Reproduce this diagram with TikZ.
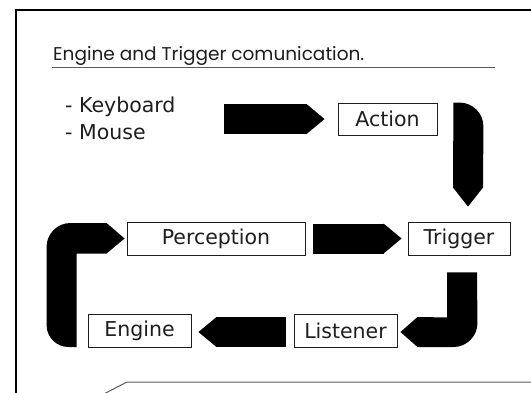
\documentclass[tikz,border=0pt]{standalone}
\usepackage{fontspec}
\setmainfont{DejaVu Sans}
\newfontfamily\titlefont{Poppins}
\usetikzlibrary{arrows.meta,positioning}

\definecolor{inkgray}{HTML}{1E1E1E}
\definecolor{rulegray}{HTML}{5A5A5A}

\tikzset{
  stage/.style={draw=inkgray, line width=0.9pt, minimum height=32pt, inner sep=0pt,
    text=inkgray, font=\fontsize{20.5}{24}\selectfont},
  listtext/.style={anchor=base west, inner sep=0pt, text=inkgray,
    font=\fontsize{20.5}{24}\selectfont},
  blockarrow/.style={line width=30pt, black,
    -{Triangle[length=18pt,width=30pt,line width=0pt]}},
  bentarrow/.style={fill=black}
}

\begin{document}
\begin{tikzpicture}[x=1pt,y=-1pt]
\useasboundingbox (0,0) rectangle (531,392);
\fill[white] (0,0) rectangle (531,392);
\clip (0,0) rectangle (531,392);

% frame and rules
\draw[line width=1.3pt] (16,400) -- (16,10) -- (540,10);
\draw[rulegray, line width=1pt] (96,398) -- (127,382) -- (540,382);

% heading
\node[anchor=base west, inner sep=0pt, text=inkgray] (title) at (53,60)
  {\titlefont\fontsize{18.5}{22}\selectfont Engine and Trigger comunication.};
\draw[rulegray, line width=0.9pt] (52,67) -- (495,67);

% input devices
\node[listtext] (keyboard) at (65,112) {- Keyboard};
\node[listtext] (mouse) at ([yshift=-27pt]keyboard.base west) {- Mouse};
\coordinate (devices) at (224,119);

% stages
\node[stage, minimum width=99pt] (action) at (387.5,119) {Action};
\node[stage, minimum width=102pt, minimum height=33pt] (trigger) at (459,238.5) {Trigger};
\node[stage, minimum width=178pt, minimum height=33pt] (perception) at (216,238.5) {Perception};
\node[stage, minimum width=103pt, minimum height=33pt] (listener) at (345.5,330.5) {Listener};
\node[stage, minimum width=103pt, minimum height=33pt] (engine) at (139.5,330.5) {Engine};

% straight arrows
\draw[blockarrow] (devices) -- ([xshift=-13pt]action.west);
\draw[blockarrow] ([xshift=8pt]perception.east) -- ([xshift=-6pt]trigger.west);
\draw[blockarrow] ([xshift=-8pt,yshift=-1.5pt]listener.west) -- ([xshift=7pt,yshift=-1.5pt]engine.east);

% bent arrows, outer corner rounded, inner corner square
\path[bentarrow] ([shift={(16,0)}]action.north east) -- ++(6,0)
  arc[start angle=270, end angle=360, radius=24]
  -- ([shift={(24,-34)}]trigger.north) -- ([shift={(9,-15)}]trigger.north)
  -- ([shift={(-6,-34)}]trigger.north) -- cycle;

\path[bentarrow] ([shift={(-12,17)}]trigger.south) -- ++(30,0)
  -- ([shift={(80,-7.5)}]listener.east)
  arc[start angle=0, end angle=90, radius=24]
  -- ([shift={(20,16.5)}]listener.east) -- ([shift={(3,1.5)}]listener.east)
  -- ([shift={(20,-13.5)}]listener.east) -- ([shift={(-12,62)}]trigger.south) -- cycle;

\path[bentarrow] ([shift={(-11,16.5)}]engine.west) -- ++(-8,0)
  arc[start angle=90, end angle=180, radius=22]
  -- ([shift={(-80,8.5)}]perception.west)
  arc[start angle=180, end angle=270, radius=24]
  -- ([shift={(-20,-15.5)}]perception.west) -- ([shift={(-2,0)}]perception.west)
  -- ([shift={(-20,15)}]perception.west) -- ([shift={(-50,15)}]perception.west) -- cycle;
\end{tikzpicture}
\end{document}
